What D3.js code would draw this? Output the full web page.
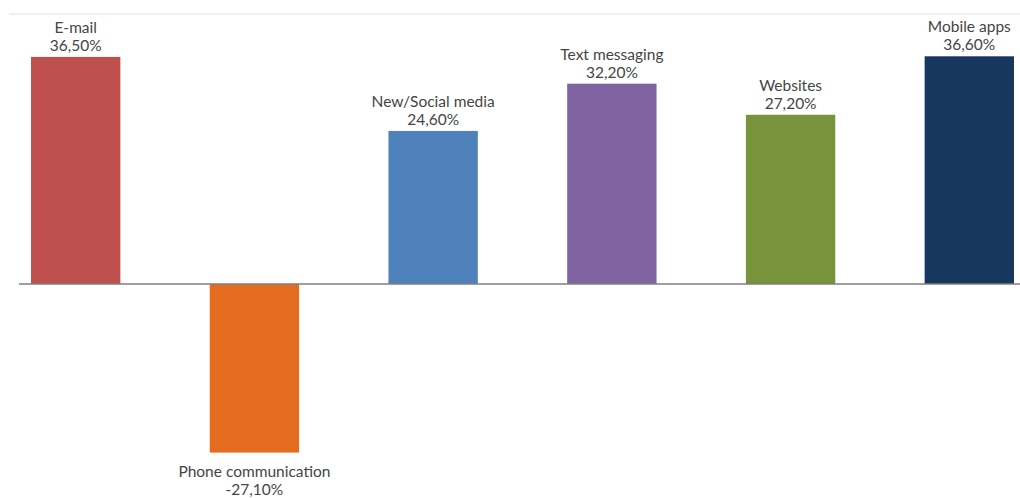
<!DOCTYPE html>
<html>
<head>
<meta charset="utf-8">
<script src="https://cdn.jsdelivr.net/npm/d3@7"></script>
<style>
  html, body { margin: 0; padding: 0; background: #fff; }
  svg { display: block; }
  text { font-family: Lato, "Open Sans", sans-serif; fill: #454545; }
</style>
</head>
<body>
<svg id="chart" width="1020" height="498"></svg>
<script>
// Change in usage by channel (%)
const categories = ["E-mail", "Phone communication", "New/Social media", "Text messaging", "Websites", "Mobile apps"];
const values = [36.5, -27.1, 24.6, 32.2, 27.2, 36.6];
const colors = ["#C0504D", "#E46C1E", "#4F81BD", "#8064A2", "#77933C", "#17375E"];
const yDomain = [-30, 43.4];

const width = 1020, height = 498;
const svg = d3.select("#chart");

const x = d3.scaleBand()
  .domain(categories)
  .range([31, 1014])
  .paddingInner(0.5)
  .paddingOuter(0);

const y = d3.scaleLinear()
  .domain(yDomain)
  .range([470.6, 14]);

const locale = d3.formatLocale({ decimal: ",", thousands: ".", grouping: [3], currency: ["", "€"], minus: "-" });
const fmt = v => locale.format(".2f")(v) + "%";

// top frame line
svg.append("line")
  .attr("x1", 9).attr("x2", width)
  .attr("y1", y(yDomain[1])).attr("y2", y(yDomain[1]))
  .attr("stroke", "#e2e2e2").attr("stroke-width", 1);

const data = categories.map((c, i) => ({ c, v: values[i], color: colors[i] }));

// bars
svg.selectAll("rect.bar")
  .data(data)
  .join("rect")
  .attr("class", "bar")
  .attr("x", d => x(d.c))
  .attr("width", x.bandwidth())
  .attr("y", d => y(Math.max(0, d.v)))
  .attr("height", d => Math.abs(y(d.v) - y(0)))
  .attr("fill", d => d.color);

// zero axis
svg.append("line")
  .attr("x1", 19).attr("x2", width)
  .attr("y1", y(0)).attr("y2", y(0))
  .attr("stroke", "#7f7f7f").attr("stroke-width", 1.5);

// labels: category name + value
const labels = svg.selectAll("g.label")
  .data(data)
  .join("g")
  .attr("class", "label")
  .attr("transform", d => `translate(${x(d.c) + x.bandwidth() / 2},0)`);

labels.append("text")
  .attr("text-anchor", "middle")
  .attr("font-size", 15.5)
  .attr("y", d => d.v >= 0 ? y(d.v) - 24 : y(d.v) + 24)
  .text(d => d.c);

labels.append("text")
  .attr("text-anchor", "middle")
  .attr("font-size", 15.5)
  .attr("y", d => d.v >= 0 ? y(d.v) - 6 : y(d.v) + 42)
  .text(d => fmt(d.v));
</script>
</body>
</html>
